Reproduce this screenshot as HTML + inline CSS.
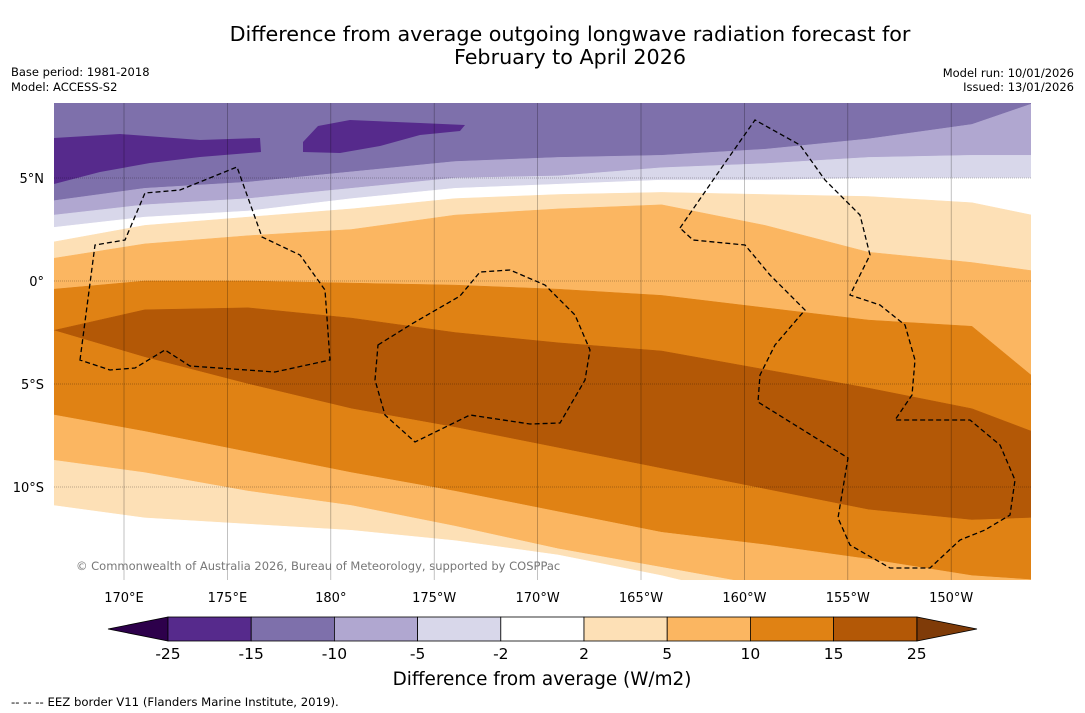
<!DOCTYPE html>
<html><head><meta charset="utf-8"><style>
body{margin:0;background:#fff;}
svg{display:block;font-family:"DejaVu Sans","Liberation Sans",sans-serif;}
</style></head><body>
<svg id="chart" width="1085" height="713" viewBox="0 0 1085 713" xmlns="http://www.w3.org/2000/svg">
<rect width="1085" height="713" fill="#fff"/>
<text x="570" y="41" font-size="20.7" text-anchor="middle">Difference from average outgoing longwave radiation forecast for</text>
<text x="570" y="64" font-size="20.7" text-anchor="middle">February to April 2026</text>
<text x="11" y="76" font-size="11.5">Base period: 1981-2018</text>
<text x="11" y="91" font-size="11.5">Model: ACCESS-S2</text>
<text x="1074" y="77" font-size="11.5" text-anchor="end">Model run: 10/01/2026</text>
<text x="1074" y="91" font-size="11.5" text-anchor="end">Issued: 13/01/2026</text>
<defs><clipPath id="mapclip"><rect x="54" y="103" width="977" height="477"/></clipPath></defs>
<g id="map" clip-path="url(#mapclip)"></g>
<g id="axes"></g>
<g id="cbar"></g>
<text x="542" y="685" font-size="18.4" text-anchor="middle">Difference from average (W/m2)</text>
<text x="11" y="706" font-size="11.7">--  --  -- EEZ border V11 (Flanders Marine Institute, 2019).</text>
</svg>
<script>
const lons=[166.6,171,176,181,186,191,196,201,206,211,213.9];
const topEdge=[8.64,8.64,8.64,8.64,8.64,8.64,8.64,8.64,8.64,8.64,8.64];
const bNeg10=[3.9,4.5,4.8,5.3,5.8,6.0,6.1,6.4,6.9,7.6,8.6];
const bNeg5=[3.2,3.7,4.0,4.5,5.0,5.1,5.5,5.7,6.0,6.1,6.1];
const bNeg2=[2.6,3.1,3.4,4.0,4.5,4.7,4.9,4.9,5.0,5.0,5.0];
const bPos2=[1.9,2.7,3.1,3.5,4.0,4.2,4.3,4.2,4.1,3.8,3.2];
const bPos5=[1.1,1.8,2.2,2.5,3.2,3.5,3.7,2.7,1.4,0.9,0.5];
const bPos10=[-0.4,0,0,-0.1,-0.2,-0.4,-0.7,-1.3,-1.9,-2.2,-4.6];
const bPos15Top=[-2.4,-1.4,-1.3,-1.8,-2.5,-3.0,-3.4,-4.3,-5.2,-6.2,-7.3];
const bPos15Bot=[-2.4,-3.7,-5.0,-6.2,-7.1,-8.1,-9.1,-10.1,-11.1,-11.6,-11.5];
const bLow10=[-6.5,-7.3,-8.3,-9.3,-10.2,-11.2,-12.2,-12.8,-13.5,-14.3,-14.5];
const bLow5=[-8.7,-9.3,-10.2,-10.9,-11.9,-13.0,-13.9,-14.8,-15.5,-15.5,-15.5];
const bLow2=[-10.9,-11.5,-11.8,-12.1,-12.6,-13.3,-14.3,-15.5,-15.5,-15.5,-15.5];
const bottomEdge=[-15.6,-15.6,-15.6,-15.6,-15.6,-15.6,-15.6,-15.6,-15.6,-15.6,-15.6];
const levels=[-25,-15,-10,-5,-2,2,5,10,15,25];
const lonTicks=[170,175,180,185,190,195,200,205,210];
const lonLabels=["170°E","175°E","180°","175°W","170°W","165°W","160°W","155°W","150°W"];
const latTicks=[5,0,-5,-10];
const latLabels=["5°N","0°","5°S","10°S"];

const NS="http://www.w3.org/2000/svg";
const X=lon=>124+(lon-170)*20.68;
const Y=lat=>281-lat*20.6;
function mk(tag,attrs,parent){const e=document.createElementNS(NS,tag);for(const k in attrs)e.setAttribute(k,attrs[k]);parent.appendChild(e);return e;}
const map=document.getElementById('map');
mk('rect',{x:54,y:103,width:977,height:477,fill:'#fff'},map);
const lines=[topEdge,bNeg10,bNeg5,bNeg2,bPos2,bPos5,bPos10,bPos15Top,bPos15Bot,bLow10,bLow5,bLow2,bottomEdge];
const bandColors=['#7e70ab','#b0a7d0','#d8d7ea','#ffffff','#fde0b6','#fbb661','#e08214','#b35806','#e08214','#fbb661','#fde0b6','#ffffff'];
const bandNames=['band-neg15-neg10','band-neg10-neg5','band-neg5-neg2','band-neg2-pos2','band-pos2-pos5','band-pos5-pos10','band-pos10-pos15','band-pos15-pos25','band-pos10-pos15-south','band-pos5-pos10-south','band-pos2-pos5-south','band-neg2-pos2-south'];
for(let i=0;i<lines.length-1;i++){
  const a=lines[i],b=lines[i+1];let pts=[];
  lons.forEach((l,j)=>pts.push(X(l).toFixed(1)+','+Y(a[j]).toFixed(1)));
  for(let j=lons.length-1;j>=0;j--)pts.push(X(lons[j]).toFixed(1)+','+Y(b[j]).toFixed(1));
  const p=mk('polygon',{points:pts.join(' '),fill:bandColors[i],stroke:bandColors[i],'stroke-width':0.5},map);
  
  
}
const blob1=mk('path',{d:'M54,138 L120,134 L200,140 L260,138 L261,152 L200,157 L150,163 L100,172 L54,184 Z',fill:'#562a8c'},map);


const blob2=mk('path',{d:'M303,142 L318,126 L350,120 L420,123 L465,125 L460,131 L420,135 L380,146 L340,153 L303,152 Z',fill:'#562a8c'},map);


lonTicks.forEach(l=>mk('line',{x1:X(l),x2:X(l),y1:103,y2:580,stroke:'#000','stroke-opacity':0.35,'stroke-width':0.7},map));
latTicks.forEach(l=>mk('line',{x1:54,x2:1031,y1:Y(l),y2:Y(l),stroke:'#000','stroke-opacity':0.35,'stroke-width':0.7,'stroke-dasharray':'1,1'},map));
const eez=['M80,360 L95,245 L125,240 L145,193 L180,190 L237,167 L262,237 L300,255 L325,290 L330,360 L275,372 L190,366 L165,350 L135,368 L110,370 Z',
'M378,345 L410,325 L460,296 L480,272 L510,270 L545,285 L575,315 L590,350 L585,380 L560,423 L530,424 L470,415 L415,442 L385,415 L375,380 Z',
'M680,228 L720,170 L755,120 L800,145 L825,180 L860,215 L870,255 L850,295 L880,305 L905,325 L915,360 L912,395 L895,420 L925,420 L970,420 L1000,445 L1015,480 L1010,515 L985,530 L960,540 L930,568 L890,568 L850,545 L838,518 L848,458 L758,402 L760,375 L775,345 L805,310 L770,275 L745,245 L693,240 Z'];
eez.forEach((d,i)=>{const e=mk('path',{d:d,fill:'none',stroke:'#000','stroke-width':1.3,'stroke-dasharray':'5,3'},map);
  
  });
const copy=mk('text',{x:76,y:570,'font-size':11.5,fill:'#777'},map);copy.textContent='© Commonwealth of Australia 2026, Bureau of Meteorology, supported by COSPPac';


const axes=document.getElementById('axes');
lonTicks.forEach((l,i)=>{const t=mk('text',{x:X(l),y:602,'font-size':13,'text-anchor':'middle'},axes);t.textContent=lonLabels[i];
  
  });
latTicks.forEach((l,i)=>{const t=mk('text',{x:44,y:Y(l)+5,'font-size':13,'text-anchor':'end'},axes);t.textContent=latLabels[i];
  
  });
const cb=document.getElementById('cbar');
const cbColors=['#562a8c','#7e70ab','#b0a7d0','#d8d7ea','#ffffff','#fde0b6','#fbb661','#e08214','#b35806'];
const cx=i=>168+i*83.2;
mk('polygon',{points:'108,629 168,617 168,641',fill:'#2d004b',stroke:'#000','stroke-width':0.8},cb);
mk('polygon',{points:'977,629 917,617 917,641',fill:'#7f3b08',stroke:'#000','stroke-width':0.8},cb);
cbColors.forEach((c,i)=>{const r=mk('rect',{x:cx(i),y:617,width:83.2,height:24,fill:c,stroke:'#000','stroke-width':0.8},cb);
  
  });
levels.forEach((v,i)=>{const t=mk('text',{x:cx(i),y:659,'font-size':15.5,'text-anchor':'middle'},cb);t.textContent=String(v);
  
  });
</script>
</body></html>
